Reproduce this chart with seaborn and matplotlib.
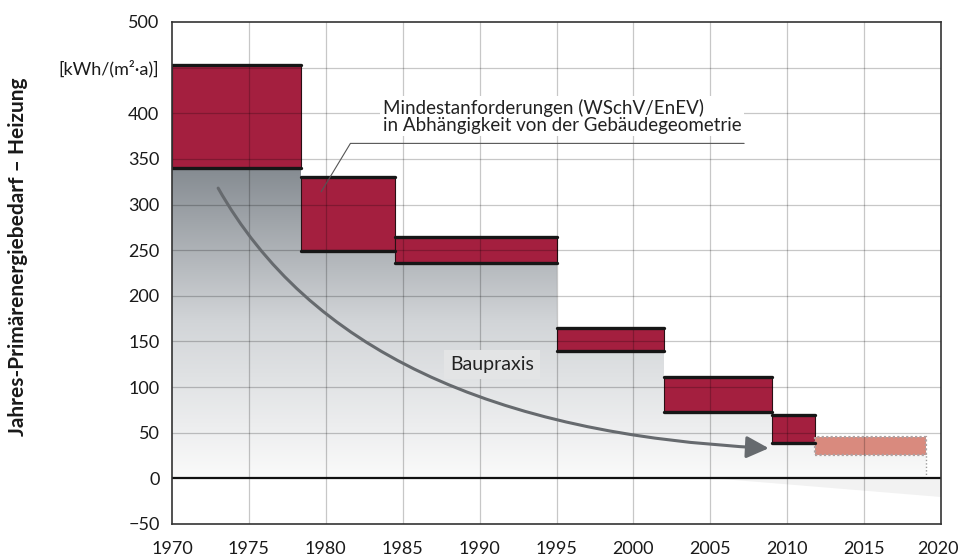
import numpy as np
import pandas as pd
import matplotlib
matplotlib.use("Agg")
import matplotlib.pyplot as plt
import matplotlib.transforms as mtransforms
import seaborn as sns
from matplotlib.patches import Polygon, FancyArrowPatch, Rectangle
from matplotlib.path import Path
from matplotlib.colors import LinearSegmentedColormap

# ---------------- data ----------------
period_start = [1970, 1978.4, 1984.5, 1995, 2002, 2009]
period_end = [1978.4, 1984.5, 1995, 2002, 2009, 2011.8]
req_upper = [453, 330, 264, 165, 111, 69]
req_lower = [340, 249, 236, 140, 73, 39]

future_start, future_end = 2011.8, 2019
future_upper, future_lower = 45, 26

# Baupraxis arrow (start, bend, end)
practice_x = [1973, 1981.8, 2008.8]
practice_y = [318, 55, 33]

# leader line of the annotation
leader_x = [1979.7, 1981.6, 2007.2]
leader_y = [314, 367, 367]

x_ticks = list(range(1970, 2021, 5))
y_ticks = list(range(-50, 501, 50))
y_ticklabels = ["\u221250", "0", "50", "100", "150", "200", "250", "300",
                "350", "400", "[kWh/(m\u00b2\u00b7a)]", "500"]

ylabel = "Jahres-Prim\u00e4renergiebedarf \u2013 Heizung"
note_text = "Mindestanforderungen (WSchV/EnEV)\nin Abh\u00e4ngigkeit von der Geb\u00e4udegeometrie"
practice_label = "Baupraxis"

# ---------------- style ----------------
sns.set_theme(style="white")
plt.rcParams["font.family"] = ["Lato", "DejaVu Sans"]

fig = plt.figure(figsize=(9.6, 5.58), dpi=100)
ax = fig.add_axes([172 / 960, 1 - 524 / 558, (941 - 172) / 960, (524 - 22) / 558])

# gradient area under the steps (Baupraxis envelope)
verts = []
for s, e, lo in zip(period_start, period_end, req_lower):
    verts += [(s, lo), (e, lo)]
verts += [(future_start, future_lower), (future_end, future_lower),
          (future_end, 0), (period_start[0], 0)]
clip = Polygon(verts, closed=True, facecolor="none", edgecolor="none")
ax.add_patch(clip)
cmap = LinearSegmentedColormap.from_list("g", ["#fafafa", "#d2d5d8", "#858b91"])
grad = np.linspace(0, 1, 256).reshape(-1, 1)
top = max(req_lower)
im = ax.imshow(grad, extent=[period_start[0], future_end, 0, top], origin="lower",
               cmap=cmap, aspect="auto", zorder=1, interpolation="bicubic")
im.set_clip_path(clip)

# faint shadow under zero on the right
ax.add_patch(Polygon([(2005, 0), (2020, 0), (2020, -20)], closed=True,
                     facecolor="#f2f2f2", edgecolor="none", zorder=0.5))

# red requirement boxes
widths = np.array(period_end) - np.array(period_start)
heights = np.array(req_upper) - np.array(req_lower)
ax.bar(period_start, heights, width=widths, bottom=req_lower, align="edge",
       color="#a41f3f", edgecolor="#2a1015", linewidth=0.8, zorder=2)

# future (pink, dotted) box
ax.add_patch(Rectangle((future_start, future_lower), future_end - future_start,
                       future_upper - future_lower, facecolor="#d98a7e",
                       edgecolor="#b0a0a0", linestyle=(0, (1, 1)), linewidth=1.6,
                       zorder=2))
ax.vlines(future_end, 0, future_lower, colors="#9a9a9a", linestyles=(0, (1, 1.5)),
          linewidth=1.0, zorder=2)

# black top/bottom lines of the boxes via seaborn
rows = []
for i, (s, e, hi, lo) in enumerate(zip(period_start, period_end, req_upper, req_lower)):
    rows += [dict(seg=f"u{i}", x=s, y=hi), dict(seg=f"u{i}", x=e, y=hi),
             dict(seg=f"l{i}", x=s, y=lo), dict(seg=f"l{i}", x=e, y=lo)]
edges = pd.DataFrame(rows)
sns.lineplot(data=edges, x="x", y="y", units="seg", estimator=None, sort=False,
             color="#161616", linewidth=2.4, ax=ax, zorder=3, legend=False)

# zero line
ax.axhline(0, color="#111111", linewidth=1.6, zorder=3)

# grid on top of areas
for xv in x_ticks[1:-1]:
    ax.axvline(xv, color="black", alpha=0.22, linewidth=0.9, zorder=2.5)
for yv in y_ticks[1:-1]:
    if yv == 0:
        continue
    ax.axhline(yv, color="black", alpha=0.22, linewidth=0.9, zorder=2.5)

# Baupraxis arrow
path = Path(list(zip(practice_x, practice_y)), [Path.MOVETO, Path.CURVE3, Path.CURVE3])
arrow = FancyArrowPatch(path=path, arrowstyle="-|>,head_length=0.85,head_width=0.42",
                        mutation_scale=16, color="#666a6e", linewidth=2.2, zorder=4)
ax.add_patch(arrow)
ax.text(1990.8, 125, practice_label, ha="center", va="center", fontsize=14,
        color="#222222", zorder=5,
        bbox=dict(boxstyle="square,pad=0.3", facecolor="#e3e4e5", edgecolor="none"))

# annotation with leader
ax.plot(leader_x, leader_y, color="#555555", linewidth=0.8, zorder=4)
ax.text(1983.7, 397, note_text, ha="left", va="center", fontsize=13.5,
        color="#222222", linespacing=1.0, zorder=5,
        bbox=dict(boxstyle="square,pad=0.15", facecolor="white", edgecolor="none"))

# axes
ax.set_xlim(1970, 2020)
ax.set_ylim(-50, 500)
ax.set_xticks(x_ticks)
ax.set_xticklabels([str(v) for v in x_ticks])
ax.set_yticks(y_ticks)
ax.set_yticklabels(y_ticklabels)
ax.tick_params(axis="both", length=0, labelsize=13, colors="#1a1a1a")
ax.tick_params(axis="y", pad=9)
ax.tick_params(axis="x", pad=12)
last = ax.get_xticklabels()[-1]
last.set_transform(last.get_transform() + mtransforms.ScaledTranslation(-3 / 100, 0, fig.dpi_scale_trans))
ax.set_xlabel("")
ax.set_ylabel(ylabel, fontsize=15, fontweight="bold", color="#1a1a1a")
ax.yaxis.set_label_coords(-0.187, 0.532)
for side in ["left", "right", "top", "bottom"]:
    ax.spines[side].set_visible(True)
    ax.spines[side].set_color("#333333")
    ax.spines[side].set_linewidth(1.2)
    ax.spines[side].set_zorder(6)

fig.savefig("out.png", dpi=100)
